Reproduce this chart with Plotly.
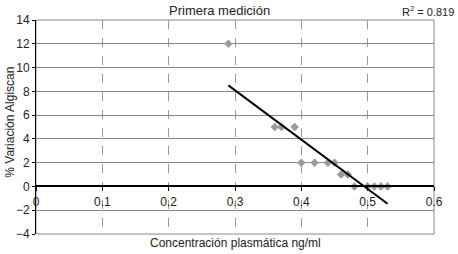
import plotly.graph_objects as go

conc = [0.29, 0.36, 0.37, 0.39, 0.40, 0.42, 0.44, 0.45, 0.46, 0.47, 0.48, 0.50, 0.51, 0.52, 0.53]
variacion = [12, 5, 5, 5, 2, 2, 2, 2, 1, 1, 0, 0, 0, 0, 0]
trend_x = [0.29, 0.53]
trend_y = [8.5, -1.45]
x_ticks = [0, 0.1, 0.2, 0.3, 0.4, 0.5, 0.6]
x_tick_labels = ["0", "0.1", "0.2", "0.3", "0.4", "0.5", "0.6"]
y_ticks = [-4, -2, 0, 2, 4, 6, 8, 10, 12, 14]
r2_text = "R<sup>2</sup> = 0.819"

font = "Liberation Sans, Arial, sans-serif"

fig = go.Figure()
fig.add_trace(go.Scatter(x=conc, y=variacion, mode="markers",
                         marker=dict(symbol="diamond", size=6.5, color="#9a9a9a"),
                         showlegend=False, cliponaxis=False))
fig.add_trace(go.Scatter(x=trend_x, y=trend_y, mode="lines",
                         line=dict(color="black", width=2), showlegend=False))

fig.update_layout(
    width=458, height=254,
    margin=dict(l=36, r=24, t=20, b=20, autoexpand=False),
    paper_bgcolor="white", plot_bgcolor="white",
    font=dict(family=font, size=12, color="#222"),
    xaxis=dict(range=[0, 0.6], tickvals=x_ticks, ticktext=x_tick_labels,
               showgrid=True, gridcolor="#999", griddash="dash", gridwidth=1,
               anchor="free", position=4/18, showline=True, linecolor="black", linewidth=2,
               ticks="outside", ticklen=4, tickcolor="black", zeroline=False,
               automargin=False, tickfont=dict(size=12)),
    yaxis=dict(range=[-4, 14], tickvals=y_ticks, showgrid=True, gridcolor="#888",
               gridwidth=1, zeroline=False, showline=True, linecolor="black",
               linewidth=1, ticks="outside", ticklen=3, tickcolor="black",
               automargin=False, tickfont=dict(size=12)),
    shapes=[dict(type="rect", xref="paper", yref="paper", x0=0, x1=1, y0=0, y1=1,
                 line=dict(color="#888", width=1), layer="below")],
    annotations=[
        dict(text="Primera medición", x=(219 - 36) / 398, y=1.0, xref="paper", yref="paper",
             xanchor="center", yanchor="bottom", yshift=0, showarrow=False, font=dict(size=13)),
        dict(text=r2_text, x=(456 - 36) / 398, y=1.0, xref="paper", yref="paper",
             xanchor="right", yanchor="bottom", yshift=0, showarrow=False, font=dict(size=11)),
        dict(text="Concentración plasmática ng/ml", x=(236 - 36) / 398, y=0, xref="paper", yref="paper",
             xanchor="center", yanchor="top", yshift=0, showarrow=False, font=dict(size=12)),
        dict(text="% Variación Algiscan", x=0, y=0.52, xref="paper", yref="paper",
             xanchor="center", yanchor="middle", xshift=-26, textangle=-90,
             showarrow=False, font=dict(size=12)),
    ],
)

fig.write_html("out.html", config={"displayModeBar": False},
               post_script="document.body.style.margin='0';document.body.style.padding='0';")
